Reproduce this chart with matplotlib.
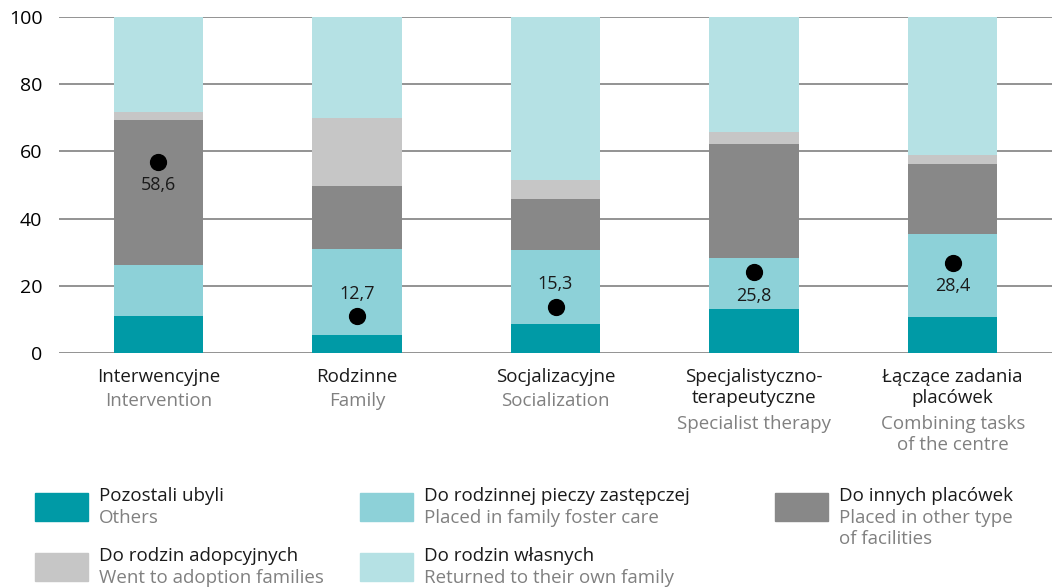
import numpy as np
import matplotlib
matplotlib.use('Agg')
import matplotlib.pyplot as plt
from matplotlib.patches import Rectangle

plt.rcParams['font.family'] = ['Open Sans', 'DejaVu Sans']

#Categories, Polish and English names
cats_pl = ["Interwencyjne", "Rodzinne", "Socjalizacyjne", "Specjalistyczno-\nterapeutyczne", "Łączące zadania\nplacówek"]
cats_en = ["Intervention", "Family", "Socialization", "Specialist therapy", "Combining tasks\nof the centre"]

#Stacked shares (%), bottom to top
others = [11.0, 5.4, 8.7, 13.1, 10.7]
foster = [15.2, 25.6, 22.0, 15.2, 24.7]
facilities = [43.1, 18.7, 15.1, 33.9, 20.9]
adoption = [2.4, 20.2, 5.7, 3.6, 2.6]
own_family = [28.3, 30.1, 48.5, 34.2, 41.1]

#Dot markers with labels
dot_values = [56.9, 11.1, 13.8, 24.0, 26.9]
dot_labels = ["58,6", "12,7", "15,3", "25,8", "28,4"]
label_above = [False, True, True, False, False]

series = [others, foster, facilities, adoption, own_family]
colors = ["#009aa6", "#8dd1d8", "#888888", "#c6c6c6", "#b5e1e4"]
leg_pl = ["Pozostali ubyli", "Do rodzinnej pieczy zastępczej", "Do innych placówek",
          "Do rodzin adopcyjnych", "Do rodzin własnych"]
leg_en = ["Others", "Placed in family foster care", "Placed in other type\nof facilities",
          "Went to adoption families", "Returned to their own family"]

fig = plt.figure(figsize=(10.54, 5.87), dpi=100)
ax = fig.add_axes([59/1054, 1 - 353/587, 993/1054, 336/587])

x = np.arange(len(cats_pl))
bottom = np.zeros(len(x))
for vals, c in zip(series, colors):
    ax.bar(x, vals, width=0.45, bottom=bottom, color=c, zorder=2)
    bottom += np.array(vals)

ax.scatter(x, dot_values, s=130, color="black", zorder=3)
for xi, v, lab, up in zip(x, dot_values, dot_labels, label_above):
    off = 6.6 if up else -7.0
    ax.text(xi, v + off, lab, ha="center", va="center", fontsize=13, color="#1a1a1a", zorder=4)

ax.set_xlim(-0.5, 4.5)
ax.set_ylim(0, 100)
ax.set_yticks(range(0, 101, 20))
ax.yaxis.grid(True, color="#8a8a8a", linewidth=1.3, zorder=0)
ax.set_axisbelow(True)
ax.set_xticks([])
for s in ax.spines.values():
    s.set_visible(False)
ax.tick_params(axis="y", length=0, pad=12, labelsize=14)

#Category labels under bars
for xi, pl, en in zip(x, cats_pl, cats_en):
    npl = pl.count("\n") + 1
    ax.annotate(pl, (xi, 0), xytext=(0, -11), textcoords="offset points", ha="center", va="top",
                fontsize=13.5, color="#1a1a1a", linespacing=1.2, annotation_clip=False)
    ax.annotate(en, (xi, 0), xytext=(0, -11 - 16.8 * npl), textcoords="offset points", ha="center",
                va="top", fontsize=13.5, color="#808080", linespacing=1.2, annotation_clip=False)

#Manual legend
pos = [(35, 493), (360, 493), (775, 493), (35, 553), (360, 553)]
W, H = 1054, 587
for (px, py), c, pl, en in zip(pos, colors, leg_pl, leg_en):
    fig.patches.append(Rectangle((px / W, 1 - (py + 28) / H), 53 / W, 28 / H,
                                 transform=fig.transFigure, color=c))
    fig.text((px + 64) / W, 1 - (py + 3) / H, pl, ha="left", va="center", fontsize=13.5, color="#1a1a1a")
    fig.text((px + 64) / W, 1 - (py + 16) / H, en, ha="left", va="top", fontsize=13.5,
             color="#808080", linespacing=1.2)

fig.savefig("out.png", dpi=100)
